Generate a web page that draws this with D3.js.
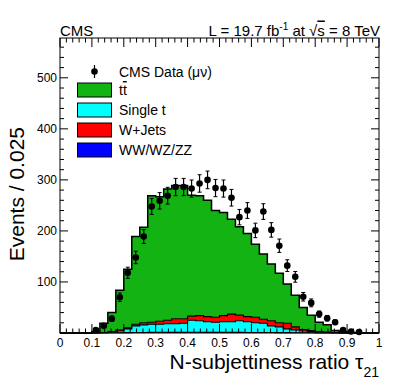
<!DOCTYPE html>
<html><head><meta charset="utf-8">
<script src="https://cdn.jsdelivr.net/npm/d3@7"></script>
<style>
html,body{margin:0;padding:0;background:#fff;}
svg{display:block;font-family:"Liberation Sans",Arial,Helvetica,sans-serif;}
</style></head>
<body>
<svg id="c" width="399" height="383"></svg>
<script>
// bin lower edges: 0, 0.025, ..., 0.975 (40 bins)
const binWidth = 0.025;
const ww      = [0,0,0,0,0,0.2,0.4,0.6,0.8,1,1,1.2,1.2,1.2,1.3,1.3,1.4,1.4,1.3,1.3,1.3,1.2,1.2,1.1,1,1,0.9,0.8,0.7,0.6,0.5,0.4,0.3,0.2,0.1,0,0,0,0,0];
const singleT = [0,0,0,0,0.3,0.8,1.6,3.4,7.2,13,15,15.8,15.8,16.8,16.7,17.7,23.6,22.6,20.7,19.7,20.7,20.8,22.8,20.9,19,18,13.1,11.2,7.3,5.4,3.5,2.6,1.7,0.8,0.4,0,0,0,0,0];
const wjets   = [0,0,0,0,0.2,0,1,2,2,3,4,4,6,7,10,9,8,10,10,10,12,15,11,10,11,8,10,8,11,6,3,2,1,1,0.5,0.5,0,0,0,0];
const ttbar   = [0,0,0,0,2.5,18,37,78,115,172,187,248,244,257,261,261,237,235,228,209,202,186,173,163,143,128,111,97,77,62,43,30,18,14,4,2.5,1,0,0,0];
const dataVal = [0,0,0,0,6,14,28,70,118,148,189,248,259,269,286,286,283,293,300,284,283,265,227,240,201,238,202,171,132,110,71,59,37,29,21,6,3,2,0,0];
const dataErr = [0,0,0,0,2.4,3.7,5.3,8.4,10.9,12.2,13.7,15.7,16.1,16.4,16.9,16.9,16.8,17.1,17.3,16.9,16.8,16.3,15.1,15.5,14.2,15.4,14.2,13.1,11.5,10.5,8.4,7.7,6.1,5.4,4.6,2.4,1.7,1.4,0,0];
const yTicks = [100,200,300,400,500];
const xTicks = [0,0.1,0.2,0.3,0.4,0.5,0.6,0.7,0.8,0.9,1];
const xTickLabels = ["0","0.1","0.2","0.3","0.4","0.5","0.6","0.7","0.8","0.9","1"];
const legendNames = ["CMS Data (\u03bc\u03bd)","tt","Single t","W+Jets","WW/WZ/ZZ"];
const colors = {tt:"#13b313", st:"#00ffff", wj:"#ff0000", ww:"#0000ff"};

const svg = d3.select("#c");
const L=60, R=379, T=38, B=333;
const x = d3.scaleLinear().domain([0,1]).range([L,R]);
const y = d3.scaleLinear().domain([0,578]).range([B,T]);

// stacked layers (bottom -> top): ww, single t, w+jets, ttbar
const layers = [
  {vals: ww, color: colors.ww},
  {vals: singleT, color: colors.st},
  {vals: wjets, color: colors.wj},
  {vals: ttbar, color: colors.tt}
];
const n = ttbar.length;
let cum = new Array(n).fill(0);
const stacked = layers.map(l => {
  const lo = cum.slice();
  const hi = cum.map((c,i)=>c+l.vals[i]);
  cum = hi;
  return {color:l.color, lo, hi};
});
function pts(lo, hi){
  const p=[];
  for(let i=0;i<n;i++){
    p.push({x:i*binWidth, lo:lo[i], hi:hi[i]});
    p.push({x:(i+1)*binWidth, lo:lo[i], hi:hi[i]});
  }
  return p;
}
const area = d3.area().x(d=>x(d.x)).y0(d=>y(d.lo)).y1(d=>y(d.hi));
const line = d3.line().x(d=>x(d.x)).y(d=>y(d.hi));
const plot = svg.append("g");
stacked.forEach(s=>{
  plot.append("path").attr("d", area(pts(s.lo,s.hi))).attr("fill", s.color).attr("stroke","none");
});
stacked.forEach((s,k)=>{
  plot.append("path").attr("d", line(pts(s.lo,s.hi))).attr("fill","none").attr("stroke","#000").attr("stroke-width", k===3?1.5:1.1);
});

// ticks
const ax = svg.append("g").attr("stroke","#000").attr("stroke-width",1);
const xMinor = d3.range(0,1.0001,0.02);
xMinor.forEach(v=>{
  const major = Math.abs(v*10-Math.round(v*10))<1e-6;
  const len = major?9:4.5;
  ax.append("line").attr("x1",x(v)).attr("x2",x(v)).attr("y1",B).attr("y2",B-len);
  ax.append("line").attr("x1",x(v)).attr("x2",x(v)).attr("y1",T).attr("y2",T+len);
});
const yMinor = d3.range(0,578,20);
yMinor.forEach(v=>{
  const major = v%100===0;
  const len = major?8:4;
  ax.append("line").attr("y1",y(v)).attr("y2",y(v)).attr("x1",L).attr("x2",L+len);
  ax.append("line").attr("y1",y(v)).attr("y2",y(v)).attr("x1",R).attr("x2",R-len);
});
svg.append("rect").attr("x",L).attr("y",T).attr("width",R-L).attr("height",B-T)
  .attr("fill","none").attr("stroke","#000").attr("stroke-width",1);

// data points
const dg = svg.append("g");
dataVal.forEach((v,i)=>{
  if(v<=0) return;
  const cx = x((i+0.5)*binWidth);
  const e = dataErr[i];
  dg.append("line").attr("x1",cx).attr("x2",cx).attr("y1",y(v-e)).attr("y2",y(v+e)).attr("stroke","#000").attr("stroke-width",1.2);
  [v-e,v+e].forEach(w=>dg.append("line").attr("x1",cx-2).attr("x2",cx+2).attr("y1",y(w)).attr("y2",y(w)).attr("stroke","#000").attr("stroke-width",1));
  dg.append("circle").attr("cx",cx).attr("cy",y(v)).attr("r",3.3).attr("fill","#000");
});

// axis labels
const tl = svg.append("g").attr("font-size",12).attr("fill","#000");
xTicks.forEach((v,i)=>{
  tl.append("text").attr("x",x(v)).attr("y",346.5).attr("text-anchor","middle").text(xTickLabels[i]);
});
yTicks.forEach(v=>{
  tl.append("text").attr("x",57).attr("y",y(v)).attr("dy","0.36em").attr("text-anchor","end").text(v);
});

// titles
const xt = svg.append("text").attr("x",379).attr("y",369).attr("text-anchor","end").attr("font-size",21);
xt.append("tspan").text("N-subjettiness ratio \u03c4");
xt.append("tspan").attr("font-size",14).attr("dy",8).text("21");
svg.append("text").attr("transform","translate(24,127) rotate(-90)").attr("text-anchor","end")
  .attr("font-size",21).text("Events / 0.025");

svg.append("text").attr("x",60).attr("y",35.5).attr("font-size",15).text("CMS");
const lum = svg.append("text").attr("x",380).attr("y",35.5).attr("text-anchor","end").attr("font-size",15);
lum.append("tspan").text("L = 19.7 fb");
lum.append("tspan").attr("font-size",10).attr("dy",-6).text("-1");
lum.append("tspan").attr("dy",6).text(" at \u221a");
lum.append("tspan").style("text-decoration","overline").text("s");
lum.append("tspan").text(" = 8 TeV");

// legend
const lg = svg.append("g");
const rowY = [71.5, 90, 110, 130, 150];
const boxColors = [null, colors.tt, colors.st, colors.wj, colors.ww];
legendNames.forEach((name,i)=>{
  const cy = rowY[i];
  if(i===0){
    lg.append("line").attr("x1",94.5).attr("x2",94.5).attr("y1",cy-6.5).attr("y2",cy+6.5).attr("stroke","#000").attr("stroke-width",1.2);
    lg.append("circle").attr("cx",94.5).attr("cy",cy).attr("r",3.3).attr("fill","#000");
  } else {
    lg.append("rect").attr("x",77.5).attr("y",cy-7).attr("width",34).attr("height",14)
      .attr("fill",boxColors[i]).attr("stroke","#000").attr("stroke-width",1);
  }
  const t = lg.append("text").attr("x",119).attr("y",cy).attr("dy","0.36em").attr("font-size",14);
  if(i===1){
    t.append("tspan").text("t");
    t.append("tspan").style("text-decoration","overline").text("t");
  } else t.text(name);
});
</script>
</body></html>
